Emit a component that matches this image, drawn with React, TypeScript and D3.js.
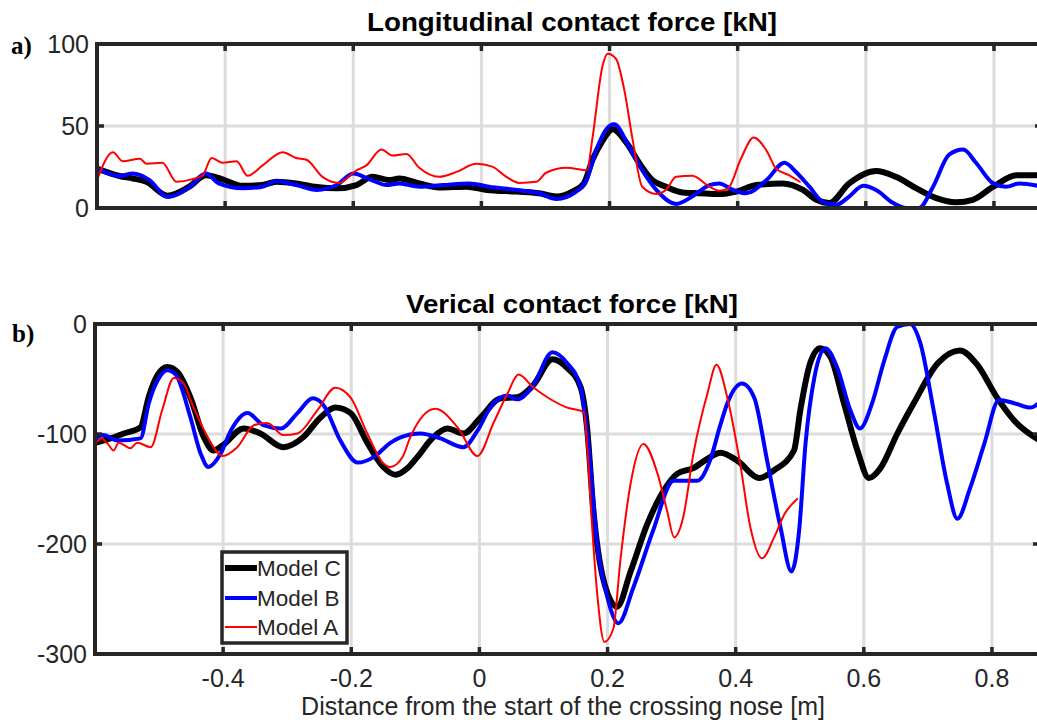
import React from 'react';
import * as d3 from 'd3';

// ---------- tick values ----------
const xTicks = [-0.4, -0.2, 0, 0.2, 0.4, 0.6, 0.8];
const xTickLabels = ['-0.4', '-0.2', '0', '0.2', '0.4', '0.6', '0.8'];
const topYTicks = [0, 50, 100];
const botYTicks = [-300, -200, -100, 0];

// ---------- (a) Longitudinal contact force ----------
const topCx = [-0.6, -0.565, -0.544, -0.523, -0.49, -0.456, -0.43, -0.404, -0.373, -0.342, -0.32, -0.289, -0.257, -0.226, -0.195, -0.17, -0.144, -0.128, -0.097, -0.066, -0.023, 0.008, 0.055, 0.09, 0.117, 0.142, 0.16, 0.173, 0.189, 0.205, 0.226, 0.246, 0.267, 0.288, 0.314, 0.34, 0.371, 0.398, 0.429, 0.47, 0.502, 0.523, 0.543, 0.574, 0.616, 0.647, 0.679, 0.71, 0.741, 0.767, 0.799, 0.835, 0.875];
const topC = [24, 19.5, 18, 16, 7.5, 13, 20, 17.5, 13.5, 14, 16, 15, 12.8, 12, 14, 19, 17, 18, 15, 12.5, 13, 11, 10, 9, 7, 10, 15, 29, 41, 48, 40, 27.6, 17, 13, 9.5, 9, 8.5, 10, 14, 15, 11, 5, 3, 15, 22.6, 19, 12, 6, 3.5, 5, 13, 20, 20];

const topBx = [-0.6, -0.565, -0.544, -0.518, -0.49, -0.456, -0.43, -0.41, -0.373, -0.342, -0.32, -0.289, -0.257, -0.226, -0.2, -0.175, -0.148, -0.128, -0.097, -0.06, -0.019, 0.012, 0.055, 0.09, 0.117, 0.148, 0.164, 0.179, 0.195, 0.207, 0.231, 0.251, 0.273, 0.304, 0.329, 0.356, 0.371, 0.393, 0.413, 0.445, 0.473, 0.491, 0.512, 0.533, 0.554, 0.574, 0.596, 0.616, 0.643, 0.663, 0.683, 0.705, 0.73, 0.752, 0.772, 0.799, 0.819, 0.84, 0.875];
const topB = [24, 19.5, 21, 17, 6.7, 12.6, 21, 15, 12, 13, 16.5, 14, 11, 14, 21, 17.6, 14, 15, 13, 14, 15, 13, 11, 9, 5.5, 10, 17, 35, 48, 51, 37, 23, 11, 2.5, 7, 14, 15, 11, 9, 17, 27.6, 22, 13, 3.7, 2, 7, 13.5, 11, 3, 0, 0, 13, 32.5, 35.6, 27.6, 15, 13, 15, 13];

const topAx = [-0.6, -0.575, -0.56, -0.533, -0.523, -0.498, -0.476, -0.451, -0.435, -0.421, -0.404, -0.382, -0.365, -0.342, -0.31, -0.289, -0.273, -0.248, -0.222, -0.195, -0.18, -0.156, -0.139, -0.117, -0.097, -0.066, -0.039, -0.008, 0.017, 0.039, 0.059, 0.086, 0.101, 0.133, 0.165, 0.173, 0.189, 0.197, 0.21, 0.223, 0.236, 0.251, 0.273, 0.288, 0.304, 0.329, 0.356, 0.371, 0.385, 0.405, 0.425, 0.445, 0.46, 0.48, 0.497];
const topA = [17, 34, 28.5, 30, 27, 27.6, 16, 17.6, 20, 30.5, 27.6, 28.5, 19.6, 25.8, 34, 30.5, 29.4, 19, 15.3, 23, 25.8, 35.6, 32, 33, 24.5, 19, 22, 27, 25.2, 19, 15.3, 16, 21.5, 24.5, 23, 41.7, 86.5, 94, 91, 72, 41.7, 13, 8.6, 11, 19, 19.6, 13, 10.5, 12, 30, 43, 35, 24, 20, 16];

// ---------- (b) Vertical contact force ----------
const botCx = [-0.6, -0.576, -0.555, -0.529, -0.516, -0.502, -0.487, -0.471, -0.451, -0.43, -0.415, -0.4, -0.368, -0.342, -0.306, -0.275, -0.248, -0.225, -0.201, -0.175, -0.15, -0.131, -0.112, -0.097, -0.072, -0.05, -0.025, 0.002, 0.033, 0.059, 0.084, 0.114, 0.137, 0.158, 0.168, 0.178, 0.193, 0.215, 0.236, 0.262, 0.287, 0.309, 0.334, 0.36, 0.376, 0.402, 0.437, 0.46, 0.491, 0.501, 0.516, 0.532, 0.548, 0.569, 0.59, 0.608, 0.626, 0.652, 0.679, 0.715, 0.75, 0.777, 0.808, 0.835, 0.875];
const botC = [-108, -104, -99.5, -94, -66, -46, -39, -44, -67, -103, -115, -110, -95, -99.5, -112, -103, -85, -76, -81, -108, -130, -137, -131, -121, -103, -95, -99.5, -85, -67.6, -66.6, -55.7, -32, -40, -57.5, -94, -170, -231, -257, -225, -182, -152, -136, -131, -121, -117, -124, -140, -133, -115, -78, -36, -22, -30, -72, -115, -140, -131, -100, -71, -36, -24, -37, -67, -88, -106];

const botBx = [-0.6, -0.587, -0.565, -0.529, -0.516, -0.502, -0.487, -0.474, -0.451, -0.435, -0.423, -0.404, -0.388, -0.362, -0.337, -0.31, -0.284, -0.26, -0.243, -0.217, -0.19, -0.165, -0.139, -0.108, -0.092, -0.061, -0.025, -0.003, 0.017, 0.044, 0.059, 0.084, 0.114, 0.137, 0.158, 0.17, 0.184, 0.2, 0.217, 0.24, 0.271, 0.303, 0.34, 0.36, 0.376, 0.387, 0.41, 0.429, 0.449, 0.47, 0.487, 0.499, 0.509, 0.523, 0.54, 0.558, 0.579, 0.594, 0.613, 0.632, 0.652, 0.672, 0.688, 0.709, 0.73, 0.746, 0.766, 0.788, 0.811, 0.835, 0.86, 0.875];
const botB = [-104, -101, -106, -104, -72, -51, -42, -46, -85, -118, -130, -118, -97, -81, -92, -95, -81, -67.6, -74, -106, -126, -121, -108, -100.5, -99.5, -104, -112, -97, -76, -65, -68.5, -55.7, -25.6, -35.6, -57.5, -108, -200, -249, -272, -240, -188, -142.5, -142.5, -124, -92, -72, -54, -67, -124, -185, -225, -188, -109, -48, -22, -39, -78.5, -95, -72, -33, -2.7, 0, -17, -78.5, -145, -177, -149, -109, -69, -72, -76, -71];

const botAx = [-0.6, -0.59, -0.58, -0.571, -0.563, -0.555, -0.545, -0.534, -0.513, -0.495, -0.477, -0.463, -0.446, -0.424, -0.401, -0.378, -0.352, -0.331, -0.306, -0.284, -0.253, -0.225, -0.201, -0.175, -0.151, -0.139, -0.12, -0.108, -0.069, -0.034, -0.003, 0.022, 0.044, 0.061, 0.084, 0.106, 0.137, 0.163, 0.168, 0.176, 0.184, 0.195, 0.209, 0.22, 0.236, 0.256, 0.278, 0.293, 0.304, 0.318, 0.334, 0.356, 0.37, 0.387, 0.407, 0.423, 0.441, 0.46, 0.476, 0.496];
const botA = [-110, -104, -109, -115, -108, -110, -113, -108, -112, -78, -49, -53, -76, -103, -120, -112, -92, -90, -101, -99.5, -78.5, -58, -67, -99.5, -126, -130, -121, -103, -77, -94, -120, -90, -63, -46, -57.5, -66.6, -76, -80, -110, -185, -246, -289, -277, -215, -145, -109, -136, -170, -194, -176, -118, -63, -37, -67, -127, -185, -213, -194, -173, -159];

const seriesNames = ['Model C', 'Model B', 'Model A'];
const seriesColors = ['#000000', '#0000ff', '#ff0000'];
const seriesWidths = [6, 4, 2];

const FONT = 'Liberation Sans, Arial, Helvetica, sans-serif';
const AXC = '#262626';
const GRIDC = '#dcdcdc';

type Panel = {
  id: string;
  left: number; right: number; top: number; bottom: number;
  xDomain: [number, number];
  yDomain: [number, number];
  yTicks: number[];
  series: { x: number[]; y: number[] }[];
  title: string;
  titleY: number;
  titleLen: number;
  showXLabels: boolean;
};

const panels: Panel[] = [
  {
    id: 'a', left: 97, right: 1042, top: 44, bottom: 208,
    xDomain: [-0.6, 0.875], yDomain: [0, 100], yTicks: topYTicks,
    series: [{ x: topCx, y: topC }, { x: topBx, y: topB }, { x: topAx, y: topA }],
    title: 'Longitudinal contact force [kN]', titleY: 31, titleLen: 410, showXLabels: false,
  },
  {
    id: 'b', left: 95, right: 1040, top: 324, bottom: 654,
    xDomain: [-0.6, 0.875], yDomain: [-300, 0], yTicks: botYTicks,
    series: [{ x: botCx, y: botC }, { x: botBx, y: botB }, { x: botAx, y: botA }],
    title: 'Verical contact force [kN]', titleY: 313, titleLen: 332, showXLabels: true,
  },
];

function PanelView({ p }: { p: Panel }) {
  const x = d3.scaleLinear().domain(p.xDomain).range([p.left, p.right]);
  const y = d3.scaleLinear().domain(p.yDomain).range([p.bottom, p.top]);
  const line = d3.line<[number, number]>()
    .x(d => x(d[0]))
    .y(d => y(d[1]))
    .curve(d3.curveMonotoneX);
  const tl = 7;
  return (
    <g>
      <defs>
        <clipPath id={`clip-${p.id}`}>
          <rect x={p.left} y={p.top} width={p.right - p.left} height={p.bottom - p.top} />
        </clipPath>
      </defs>
      {/* grid */}
      {xTicks.map(t => (
        <line key={'gx' + t} x1={x(t)} x2={x(t)} y1={p.top} y2={p.bottom} stroke={GRIDC} strokeWidth={3} />
      ))}
      {p.yTicks.map(t => (
        <line key={'gy' + t} x1={p.left} x2={p.right} y1={y(t)} y2={y(t)} stroke={GRIDC} strokeWidth={3} />
      ))}
      {/* series */}
      <g clipPath={`url(#clip-${p.id})`}>
        {p.series.map((s, i) => (
          <path key={i} d={line(s.x.map((v, j) => [v, s.y[j]] as [number, number])) || ''}
            fill="none" stroke={seriesColors[i]} strokeWidth={seriesWidths[i]}
            strokeLinejoin="round" strokeLinecap="round" />
        ))}
      </g>
      {/* box */}
      <rect x={p.left} y={p.top} width={p.right - p.left} height={p.bottom - p.top}
        fill="none" stroke={AXC} strokeWidth={4} />
      {/* ticks */}
      {xTicks.map(t => (
        <g key={'tx' + t}>
          <line x1={x(t)} x2={x(t)} y1={p.bottom} y2={p.bottom - tl} stroke={AXC} strokeWidth={3.5} />
          <line x1={x(t)} x2={x(t)} y1={p.top} y2={p.top + tl} stroke={AXC} strokeWidth={3.5} />
        </g>
      ))}
      {p.yTicks.map(t => (
        <g key={'ty' + t}>
          <line x1={p.left} x2={p.left + tl} y1={y(t)} y2={y(t)} stroke={AXC} strokeWidth={3.5} />
          <line x1={p.right} x2={p.right - tl} y1={y(t)} y2={y(t)} stroke={AXC} strokeWidth={3.5} />
        </g>
      ))}
      {/* tick labels */}
      {p.yTicks.map(t => (
        <text key={'ly' + t} x={p.left - 8} y={y(t) + 8.5} textAnchor="end"
          fontFamily={FONT} fontSize={25} fill={AXC}>{t}</text>
      ))}
      {p.showXLabels && xTicks.map((t, i) => (
        <text key={'lx' + t} x={x(t)} y={p.bottom + 33} textAnchor="middle"
          fontFamily={FONT} fontSize={25} fill={AXC}>{xTickLabels[i]}</text>
      ))}
      <text x={572} y={p.titleY} textAnchor="middle" fontFamily={FONT} fontSize={25}
        textLength={p.titleLen} lengthAdjust="spacingAndGlyphs"
        fontWeight="bold" fill="#000">{p.title}</text>
    </g>
  );
}

export default function App() {
  const legX = 222, legY = 552, legW = 125, legH = 91;
  const rowY = [568, 598, 627];
  return (
    <svg width={1037} height={722} style={{ position: 'absolute', left: 0, top: 0, background: '#fff' }}>
      <rect x={0} y={0} width={1037} height={722} fill="#fff" />
      {panels.map(p => <PanelView key={p.id} p={p} />)}
      <text x={11} y={54} fontFamily="Liberation Serif, Times New Roman, serif" fontWeight="bold" fontSize={25} fill="#000">a)</text>
      <text x={12} y={342} fontFamily="Liberation Serif, Times New Roman, serif" fontWeight="bold" fontSize={25} fill="#000">b)</text>
      {/* legend */}
      <rect x={legX} y={legY} width={legW} height={legH} fill="#fff" stroke={AXC} strokeWidth={3.5} />
      {seriesNames.map((n, i) => (
        <g key={n}>
          <line x1={legX + 3} x2={legX + 35} y1={rowY[i]} y2={rowY[i]} stroke={seriesColors[i]} strokeWidth={seriesWidths[i]} />
          <text x={legX + 35} y={rowY[i] + 8} fontFamily={FONT} fontSize={22.5} fill={AXC}>{n}</text>
        </g>
      ))}
      <text x={563} y={715} textAnchor="middle" fontFamily={FONT} fontSize={25} fill={AXC}>
        Distance from the start of the crossing nose [m]
      </text>
    </svg>
  );
}
